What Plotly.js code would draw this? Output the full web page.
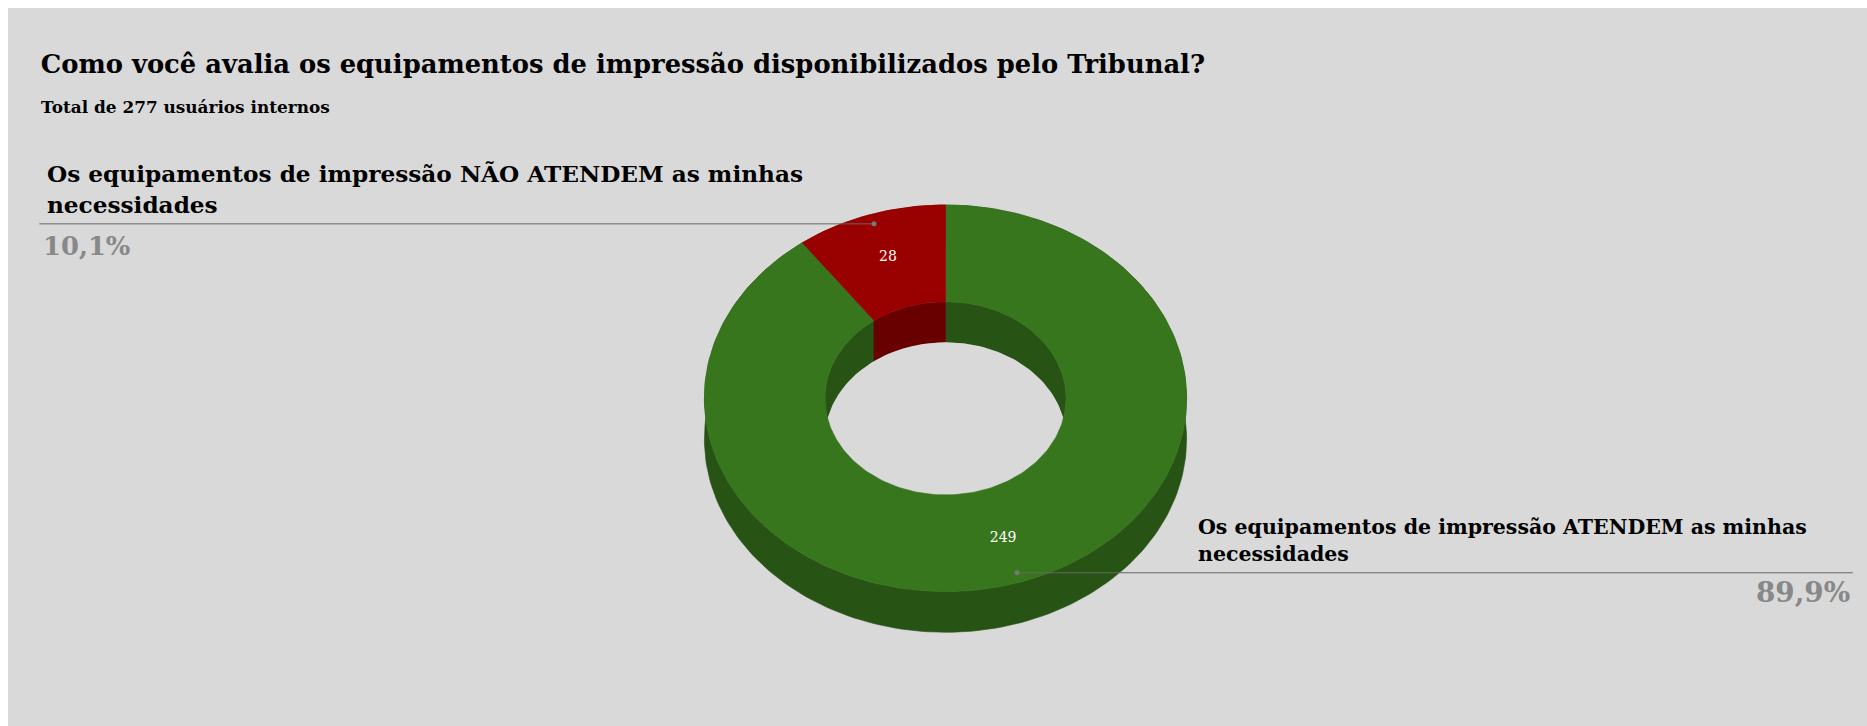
<!DOCTYPE html>
<html><head><meta charset="utf-8">
<script src="https://cdn.plot.ly/plotly-3.0.1.min.js"></script>
<style>html,body{margin:0;padding:0;background:#ffffff;overflow:hidden;} #chart{position:absolute;left:8px;top:8px;width:1859px;height:718px;}</style>
</head><body><div id="chart"></div>
<script>
// ---- data ----
const chartTitle = "Como você avalia os equipamentos de impressão disponibilizados pelo Tribunal?";
const subtitlePrefix = "Total de ";
const subtitleSuffix = " usuários internos";
const categories = [
  "Os equipamentos de impressão ATENDEM as minhas necessidades",
  "Os equipamentos de impressão NÃO ATENDEM as minhas necessidades"
];
const counts = [249, 28];

// ---- styles ----
const topColors = ["#38761d", "#990000"];
const sideColors = ["#275314", "#680000"];
const BG = "#d9d9d9";
const FONT = "Georgia, 'DejaVu Serif', serif";

// ---- geometry (page pixels) ----
const G = {cx: 945.5, cy: 398.3, rx: 241.1, ry: 193.3, hole: 0.5, depth: 40.7};
const N = 240;

function arc(r, a0, a1, dy) {
  const n = Math.max(2, Math.ceil(Math.abs(a1 - a0) / (2 * Math.PI) * N));
  const xs = [], ys = [];
  for (let i = 0; i <= n; i++) {
    const a = a0 + (a1 - a0) * i / n;
    xs.push(G.cx + r * G.rx * Math.sin(a));
    ys.push(G.cy - r * G.ry * Math.cos(a) + dy);
  }
  return {xs, ys};
}
function poly(parts, color, lw) {
  let xs = [], ys = [];
  parts.forEach(p => { xs = xs.concat(p.xs); ys = ys.concat(p.ys); });
  xs.push(xs[0]); ys.push(ys[0]);
  return {type: 'scatter', mode: 'lines', x: xs, y: ys, fill: 'toself', fillcolor: color,
          line: {color: color, width: lw === undefined ? 0.6 : lw}, hoverinfo: 'skip', showlegend: false};
}

const total = counts.reduce((a, b) => a + b, 0);
const slices = [];
let cum = 0;
counts.forEach((v, i) => {
  const a0 = cum / total * 2 * Math.PI;
  cum += v;
  const a1 = cum / total * 2 * Math.PI;
  slices.push({i, v, a0, a1, mid: (a0 + a1) / 2});
});

const traces = [];
// outer walls
slices.forEach(s => traces.push(poly([arc(1, s.a0, s.a1, 0), arc(1, s.a1, s.a0, G.depth)], sideColors[s.i])));
// inner walls
slices.forEach(s => traces.push(poly([arc(G.hole, s.a0, s.a1, 0), arc(G.hole, s.a1, s.a0, G.depth)], sideColors[s.i])));
// hole floor (background)
traces.push(poly([arc(G.hole, 0, 2 * Math.PI, G.depth)], BG, 0));
// top surfaces
slices.forEach(s => traces.push(poly([arc(1, s.a0, s.a1, 0), arc(G.hole, s.a1, s.a0, 0)], topColors[s.i])));

// value labels inside slices
const lblR = 0.765;
traces.push({
  type: 'scatter', mode: 'text',
  x: slices.map(s => G.cx + lblR * G.rx * Math.sin(s.mid)),
  y: slices.map(s => G.cy - lblR * G.ry * Math.cos(s.mid)),
  text: slices.map(s => String(s.v)),
  textposition: 'middle center',
  textfont: {family: FONT, size: 14, color: '#ffffff'},
  hoverinfo: 'skip', showlegend: false
});

// leader lines + callout labels
function wrap(text, maxChars) {
  const words = text.split(' ');
  const lines = [];
  let cur = '';
  words.forEach(w => {
    const t = cur ? cur + ' ' + w : w;
    if (t.length > maxChars && cur) { lines.push(cur); cur = w; } else cur = t;
  });
  if (cur) lines.push(cur);
  return lines;
}
function ann(text, x, baseline, size, color, xanchor, bold) {
  return {text, x, y: baseline + 0.236 * size, xref: 'x', yref: 'y', xanchor, yanchor: 'bottom',
          showarrow: false, borderwidth: 0, borderpad: 0,
          font: {family: FONT, size, color, weight: bold ? 'bold' : 'normal'}};
}
const sideStyle = {
  left:  {lineEnd: 39.3,   textX: 46.7,  pctX: 42.7,  size: 23.2, pctSize: 25.8, gap: 31,   l2: 11.3, pct: 31},
  right: {lineEnd: 1852.7, textX: 1198,  pctX: 1850,  size: 20.5, pctSize: 27.8, gap: 27.7, l2: 11.3, pct: 29.4}
};
const annotations = [];
const dotR = 0.95;
slices.forEach(s => {
  const dx = G.cx + dotR * G.rx * Math.sin(s.mid);
  const dy = G.cy - dotR * G.ry * Math.cos(s.mid);
  const side = dx < G.cx ? 'left' : 'right';
  const st = sideStyle[side];
  traces.push({type: 'scatter', mode: 'lines', x: [st.lineEnd, dx], y: [dy, dy],
               line: {color: '#666666', width: 1}, hoverinfo: 'skip', showlegend: false});
  traces.push({type: 'scatter', mode: 'markers', x: [dx], y: [dy],
               marker: {color: '#777777', size: 5}, hoverinfo: 'skip', showlegend: false});
  const lines = wrap(categories[s.i], 52);
  const lastBase = dy - st.l2;
  lines.forEach((ln, k) => {
    const base = lastBase - (lines.length - 1 - k) * st.gap;
    annotations.push(ann(ln, st.textX, base, st.size, '#000000', 'left', true));
  });
  const pctText = (s.v / total * 100).toFixed(1).replace('.', ',') + '%';
  annotations.push(ann(pctText, st.pctX, dy + st.pct, st.pctSize, '#888888', side === 'left' ? 'left' : 'right', true));
});

// subtitle
annotations.push(ann(subtitlePrefix + total + subtitleSuffix, 40.7, 113.5, 16.9, '#000000', 'left', true));

const layout = {
  width: 1859, height: 718,
  margin: {l: 0, r: 0, t: 0, b: 0, pad: 0},
  paper_bgcolor: BG, plot_bgcolor: BG,
  title: {text: chartTitle, xref: 'container', yref: 'container', x: (40.7 - 8) / 1859, xanchor: 'left',
          y: 1 - (73 - 8) / 718, yanchor: 'bottom', pad: {t: 0, b: 0, l: 0, r: 0},
          font: {family: FONT, size: 25.8, color: '#000000', weight: 'bold'}},
  xaxis: {range: [8, 1867], visible: false, fixedrange: true},
  yaxis: {range: [726, 8], visible: false, fixedrange: true},
  showlegend: false,
  annotations
};
Plotly.newPlot('chart', traces, layout, {staticPlot: true, displayModeBar: false});
</script></body></html>
